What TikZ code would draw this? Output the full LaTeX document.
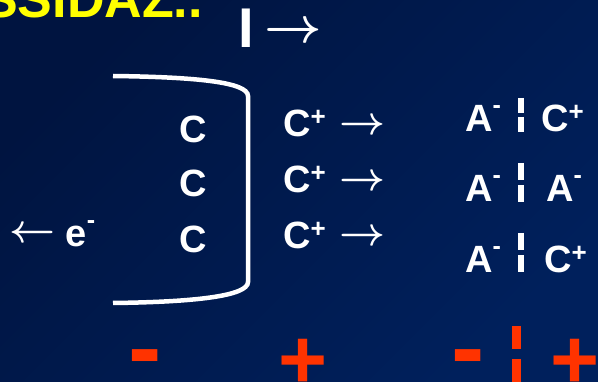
\documentclass[tikz,border=0pt]{standalone}
\usepackage{fontspec}
\usepackage{graphicx}
\setmainfont{Liberation Sans}

% superscript charges and arrow glyphs
\newcommand\supplus{\raisebox{0.29em}{\fontsize{26}{26}\selectfont +}}
\newcommand\supminus{\raisebox{0.48em}{\fontsize{25}{25}\selectfont -}}
\newcommand\rarrow[1]{\scalebox{#1}{\boldmath$\rightarrow$}}
\newcommand\larrow[1]{\scalebox{#1}{\boldmath$\leftarrow$}}

\definecolor{navytop}{HTML}{001440}
\definecolor{navybot}{HTML}{00205C}
\definecolor{signred}{HTML}{FF3300}
\definecolor{titleyellow}{HTML}{FFFF00}

\tikzset{
  lbl/.style={text=white, font=\fontsize{38}{38}\selectfont\bfseries,
    inner sep=0pt, anchor=base west},
  glyph/.style={text=white, inner sep=0pt, anchor=center},
  wire/.style={draw=white, line width=4.5pt, line cap=butt},
  barline/.style={draw=white, line width=6pt},
  sign/.style={text=signred, inner sep=0pt, anchor=base,
    font=\fontsize{#1}{#1}\selectfont\bfseries},
}

\begin{document}
\begin{tikzpicture}[x=1pt, y=-1pt]
  \useasboundingbox (0,0) rectangle (598,382);
  \clip (0,0) rectangle (598,382);
  \shade[top color=navytop, bottom color=navybot, shading angle=45]
    (0,0) rectangle (598,382);

  % heading (runs off the top left)
  \node[lbl, anchor=base east, text=titleyellow,
        font=\fontsize{52}{52}\selectfont\bfseries] (title) at (203,18) {SSIDAZ..};

  % current
  \node[lbl, font=\fontsize{56}{56}\selectfont\bfseries] (cur) at (238.5,48) {I};
  \node[glyph] (curarrow) at (293,33) {\rarrow{5}};

  % metal piece
  \draw[wire] (113,76) .. controls (195,77) and (248,82) .. (248,96)
    -- (248,282) .. controls (248,296) and (195,302) .. (113,303);
  \node[lbl, anchor=base] (c1) at (193,143) {C};
  \node[lbl, anchor=base] (c2) at (193,197) {C};
  \node[lbl, anchor=base] (c3) at (193,253) {C};

  % electron flow
  \node[glyph] (earrow) at (32,235) {\larrow{4}};
  \node[lbl] (elec) at (65.5,247) {e\supminus};

  % released cations
  \node[lbl] (cp1) at (283,137) {C\supplus};
  \node[lbl] (cp2) at (283,193) {C\supplus};
  \node[lbl] (cp3) at (283,249) {C\supplus};
  \node[glyph] (ar1) at (362,127) {\rarrow{4}};
  \node[glyph] (ar2) at (362,183) {\rarrow{4}};
  \node[glyph] (ar3) at (362,238) {\rarrow{4}};

  % interface pairs
  \node[lbl] (a1) at (465,132) {A\supminus};
  \node[lbl] (b1) at (541,132) {C\supplus};
  \draw[barline, dash pattern=on 15pt off 4pt] (520.5,98) -- (520.5,132);
  \node[lbl] (a2) at (465,202) {A\supminus};
  \node[lbl] (b2) at (546,202) {A\supminus};
  \draw[barline, dash pattern=on 17pt off 5pt] (520.5,163) -- (520.5,202);
  \node[lbl] (a3) at (465,273) {A\supminus};
  \node[lbl] (b3) at (544,273) {C\supplus};
  \draw[barline, dash pattern=on 17pt off 5pt] (520.5,233) -- (520.5,273);

  % charge signs
  \node[sign=100] (neg1) at (145.5,382) {-};
  \node[sign=84] (pos1) at (303.5,389) {+};
  \node[sign=100] (neg2) at (468,382) {-};
  \node[sign=84] (pos2) at (575,389) {+};
  \draw[draw=signred, line width=9pt, dash pattern=on 23pt off 10pt]
    (516.5,326) -- (516.5,400);
\end{tikzpicture}
\end{document}
